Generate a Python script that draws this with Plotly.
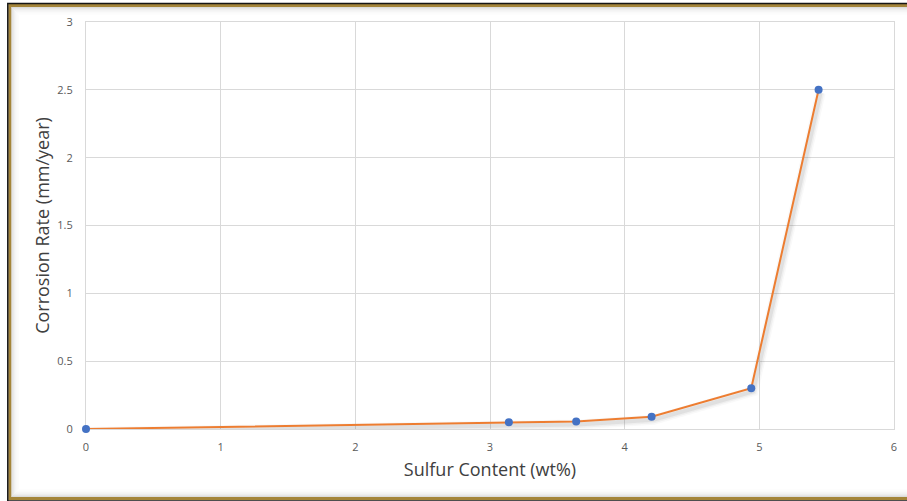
import plotly.graph_objects as go

# Sulfur content vs corrosion rate measurements
sulfur_wt = [0.0, 3.14, 3.64, 4.20, 4.94, 5.44]
corrosion_rate = [0.0, 0.05, 0.055, 0.09, 0.30, 2.50]

x_ticks = [0, 1, 2, 3, 4, 5, 6]
y_ticks = [0, 0.5, 1, 1.5, 2, 2.5, 3]
y_tick_text = ["0", "0.5", "1", "1.5", "2", "2.5", "3"]

X_RANGE = [0, 6]
Y_RANGE = [0, 3]

W, H = 907, 501
ML, MR, MT, MB = 86, 10, 22, 72
PW, PH = W - ML - MR, H - MT - MB


def px(x):
    return (x - ML) / PW


def py(y):
    return 1 - (y - MT) / PH


FONT = "'Open Sans', Lato, sans-serif"
GRID = "#D9D9D9"

fig = go.Figure()

# invisible trace that anchors the visible axes / grid
fig.add_trace(go.Scatter(x=[], y=[], xaxis="x", yaxis="y",
                         hoverinfo="skip", showlegend=False))

# soft drop shadow under the line (same data on slightly offset axes)
for w, a in [(10, 0.04), (7, 0.07), (4, 0.11)]:
    fig.add_trace(go.Scatter(
        x=sulfur_wt, y=corrosion_rate, mode="lines",
        line=dict(color=f"rgba(110,110,110,{a})", width=w),
        xaxis="x2", yaxis="y2", hoverinfo="skip", showlegend=False,
    ))

# the data line with markers
fig.add_trace(go.Scatter(
    x=sulfur_wt, y=corrosion_rate, mode="lines+markers",
    line=dict(color="#ED7D31", width=2),
    marker=dict(color="#4472C4", size=8),
    xaxis="x3", yaxis="y3",
    cliponaxis=False, showlegend=False,
))

dx = 2 / PW * (X_RANGE[1] - X_RANGE[0])
dy = 3 / PH * (Y_RANGE[1] - Y_RANGE[0])

hidden = dict(visible=False, showgrid=False, zeroline=False)

fig.update_layout(
    width=W, height=H,
    margin=dict(l=ML, r=MR, t=MT, b=MB),
    paper_bgcolor="white", plot_bgcolor="rgba(0,0,0,0)",
    font=dict(family=FONT, color="#595959", size=11),
    xaxis=dict(
        range=X_RANGE, tickvals=x_ticks, showgrid=True, gridcolor=GRID,
        gridwidth=1, zeroline=False, showline=True, linecolor=GRID,
        linewidth=1, mirror=True, ticks="", ticklabelstandoff=8,
        tickfont=dict(size=11, color="#595959"), domain=[0, 1],
        title=dict(text="Sulfur Content (wt%)", standoff=10,
                   font=dict(size=18, color="#404040")),
    ),
    yaxis=dict(
        range=Y_RANGE, tickvals=y_ticks, ticktext=y_tick_text, showgrid=True,
        gridcolor=GRID, gridwidth=1, zeroline=False, showline=True,
        linecolor=GRID, linewidth=1, mirror=True, ticks="",
        ticklabelstandoff=10, domain=[0, 1],
        tickfont=dict(size=11, color="#595959"),
        title=dict(text="Corrosion Rate (mm/year)", standoff=3,
                   font=dict(size=18, color="#404040")),
    ),
    xaxis2=dict(range=[X_RANGE[0] - dx, X_RANGE[1] - dx], anchor="y2",
                domain=[0, 1], **hidden),
    yaxis2=dict(range=[Y_RANGE[0] + dy, Y_RANGE[1] + dy], anchor="x2",
                domain=[0, 1], **hidden),
    xaxis3=dict(range=X_RANGE, anchor="y3", domain=[0, 1], **hidden),
    yaxis3=dict(range=Y_RANGE, anchor="x3", domain=[0, 1], **hidden),
)

# picture frame: gold border with dark outer edge and inner soft shadow
shapes = []
for k, a in enumerate([0.20, 0.14, 0.10, 0.07, 0.05, 0.03, 0.02, 0.01]):
    off = 11.5 + k
    shapes.append(dict(type="rect", xref="paper", yref="paper",
                       x0=px(off), x1=px(W + 20), y0=py(496.5 - k),
                       y1=py(7.5 + k),
                       line=dict(color=f"rgba(80,80,80,{a})", width=1),
                       fillcolor="rgba(0,0,0,0)", layer="below"))
shapes.append(dict(type="rect", xref="paper", yref="paper",
                   x0=px(9.5), x1=px(W + 20), y0=py(498.5), y1=py(5.5),
                   line=dict(color="#A4853A", width=3),
                   fillcolor="rgba(0,0,0,0)", layer="above"))
shapes.append(dict(type="rect", xref="paper", yref="paper",
                   x0=px(7.5), x1=px(W + 20), y0=py(501), y1=py(3.5),
                   line=dict(color="#151515", width=1.5),
                   fillcolor="rgba(0,0,0,0)", layer="above"))
fig.update_layout(shapes=shapes)

fig.write_html("out.html")
